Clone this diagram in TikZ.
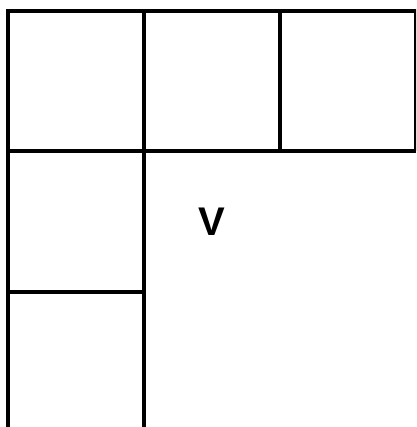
\documentclass[tikz,border=0pt]{standalone}
\usepackage{fontspec}
\setmainfont{Liberation Sans}
\begin{document}
\begin{tikzpicture}[x=1pt,y=-1pt,
  gridline/.style={line width=4pt,black},
  lbl/.style={font=\bfseries\fontsize{40}{48}\selectfont,inner sep=0pt}]
\useasboundingbox (0,0) rectangle (416,427);
\clip (0,0) rectangle (416,427);
\fill[white] (0,0) rectangle (416,427);
% top row
\draw[gridline] (8,427) -- (8,11) -- (416,11) -- (416,151);
\draw[gridline] (8,151) -- (416,151);
\draw[gridline] (144,11) -- (144,427);
\draw[gridline] (280,11) -- (280,151);
\draw[gridline] (8,292) -- (144,292);
\node[lbl] (v) at (212,221.5) {V};
\end{tikzpicture}
\end{document}
